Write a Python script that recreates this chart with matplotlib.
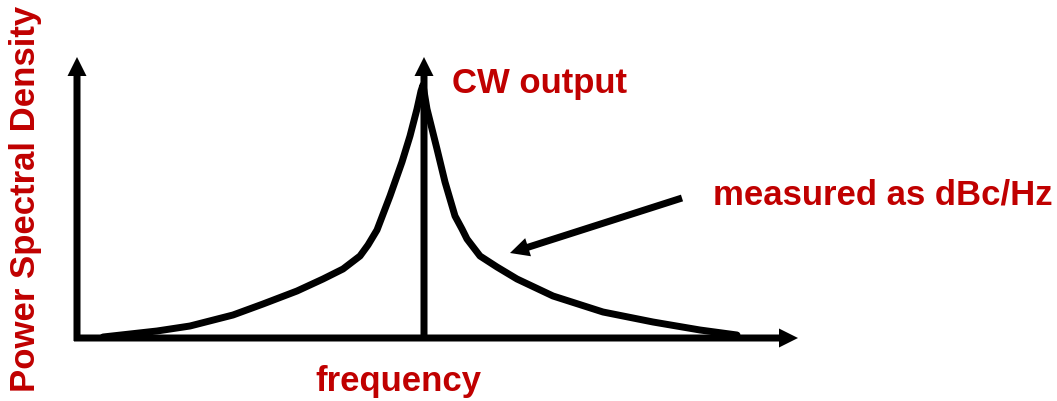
import matplotlib.pyplot as plt

# schematic phase-noise spectrum, units are arbitrary (freq, psd)
red = '#C00000'
carrier = 347
peak = 281

left_f = [26, 80, 113, 156, 186, 220, 246, 266, 283, 291, 300, 313, 325, 333, 340, 344, 346]
left_p = [1, 7, 12, 23, 34, 47, 59, 69, 82, 93, 108, 142, 176, 202, 229, 247, 253]
right_f = [350, 360, 368, 378, 385, 390, 403, 420, 440, 476, 526, 576, 623, 660]
right_p = [229, 189, 156, 122, 109, 99, 82, 71, 59, 42, 26, 16, 8, 3]

fig = plt.figure(figsize=(10.57, 4.02), dpi=100)
ax = fig.add_axes([0, 0, 1, 1])
ax.set_xlim(-77, 980)
ax.set_ylim(-63, 339)
ax.axis('off')

lw = 5
ax.plot(left_f + right_f, left_p + right_p, color='k', lw=lw,
        solid_joinstyle='round', solid_capstyle='round', zorder=2)

# axes and carrier line as arrows
akw = dict(width=7, head_width=19, head_length=19, length_includes_head=True,
           fc='k', ec='none', zorder=3)
ax.arrow(0, -3, 0, peak + 3, **akw)
ax.arrow(-3, 0, 724, 0, **akw)
ax.arrow(carrier, 0, 0, peak, **akw)
ax.arrow(605, 140, -172, -55, **akw)

fkw = dict(family='Liberation Sans', weight='bold', size=25, color=red)
ax.text(carrier + 28, 246, 'CW output', ha='left', va='baseline', **fkw)
ax.text(636, 134, 'measured as dBc/Hz', ha='left', va='baseline', **fkw)
ax.text(321, -52, 'frequency', ha='center', va='baseline', **fkw)
ax.text(-35, 140, 'Power Spectral Density', rotation=90,
        ha='right', va='center', **fkw)

fig.savefig('out.png', dpi=100)
